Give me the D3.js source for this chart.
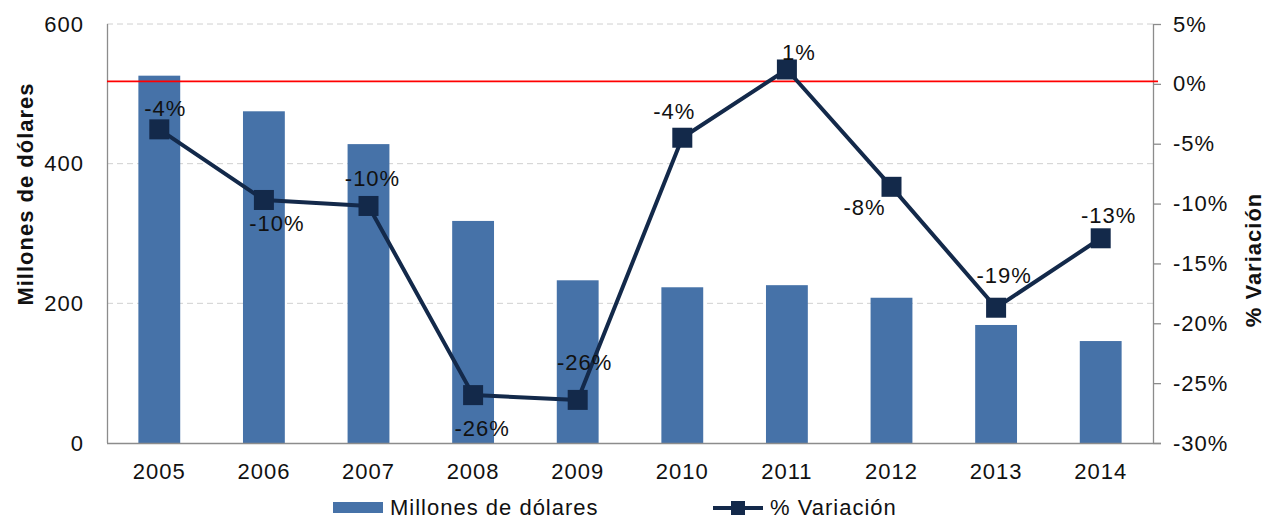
<!DOCTYPE html>
<html>
<head>
<meta charset="utf-8">
<script src="https://cdn.jsdelivr.net/npm/d3@7"></script>
<style>
  body { margin: 0; background: #fff; }
  text { font-family: "Liberation Sans", Arial, sans-serif; }
</style>
</head>
<body>
<svg id="chart" width="1267" height="521"></svg>
<script>
// data
var years = ['2005', '2006', '2007', '2008', '2009', '2010', '2011', '2012', '2013', '2014']
var millones = [526, 475, 428, 318, 233, 223, 226, 208, 169, 146]
var variacion = [-3.8, -9.7, -10.2, -26.0, -26.4, -4.5, 1.2, -8.6, -18.7, -12.9]
var varLabels = ['-4%', '-10%', '-10%', '-26%', '-26%', '-4%', '1%', '-8%', '-19%', '-13%']
var leftTicks = [0, 200, 400, 600]
var rightTicks = [5, 0, -5, -10, -15, -20, -25, -30]

var svg = d3.select('#chart')
var m = {top: 24, left: 107, right: 1153, bottom: 443}
var FS = 22, LS = 1   // Excel-ish text: a little wider than Liberation Sans

var x = d3.scaleBand().domain(years).range([m.left, m.right]).paddingInner(0.6).paddingOuter(0.3)
var xc = function(d){ return x(d) + x.bandwidth() / 2 }
var yL = d3.scaleLinear().domain([0, 600]).range([m.bottom, m.top])
var yR = d3.scaleLinear().domain([-30, 5]).range([m.bottom, m.top])

var barColor = '#4672a8', lineColor = '#13294a', axisColor = '#8c8c8c'

// dashed gridlines (left axis)
svg.selectAll('line.grid').data(leftTicks.slice(1)).join('line')
  .attr('x1', m.left).attr('x2', m.right)
  .attr('y1', yL).attr('y2', yL)
  .attr('stroke', '#d0d0d0').attr('stroke-width', 1).attr('stroke-dasharray', '6,4')

// bars
svg.selectAll('rect.bar').data(years).join('rect')
  .attr('x', function(d){ return x(d) }).attr('width', x.bandwidth())
  .attr('y', function(d, i){ return yL(millones[i]) })
  .attr('height', function(d, i){ return m.bottom - yL(millones[i]) })
  .attr('fill', barColor)

// axes
var leftAxis = svg.append('g').attr('transform', 'translate(' + m.left + ',0)')
  .call(d3.axisLeft(yL).tickValues(leftTicks).tickSize(0).tickPadding(23))
var rightAxis = svg.append('g').attr('transform', 'translate(' + m.right + ',0)')
  .call(d3.axisRight(yR).tickValues(rightTicks).tickSize(8).tickPadding(12).tickFormat(function(d){ return d + '%' }))
var bottomAxis = svg.append('g').attr('transform', 'translate(0,' + m.bottom + ')')
  .call(d3.axisBottom(x).tickSize(0).tickPadding(20))
bottomAxis.select('.domain').attr('d', 'M' + m.left + ',0.5H' + (m.right + 8))
;[leftAxis, rightAxis, bottomAxis].forEach(function(a){
  a.select('.domain').attr('stroke', axisColor).attr('stroke-width', 1.3)
  a.selectAll('.tick line').attr('stroke', axisColor).attr('stroke-width', 1.3)
  a.selectAll('.tick text').attr('font-size', FS).attr('letter-spacing', LS).attr('fill', '#111')
    .attr('font-family', '"Liberation Sans", Arial, sans-serif')
})
leftAxis.select('.domain').attr('d', 'M0.5,' + m.top + 'V' + m.bottom)
rightAxis.select('.domain').attr('d', 'M0.5,' + m.top + 'V' + m.bottom)

// red reference line at ~0%
svg.append('line')
  .attr('x1', m.left).attr('x2', m.right + 5)
  .attr('y1', yR(0.2)).attr('y2', yR(0.2))
  .attr('stroke', '#ff0000').attr('stroke-width', 1.8)

// variation line + square markers
var line = d3.line().x(function(d, i){ return xc(years[i]) }).y(function(d){ return yR(d) })
svg.append('path').datum(variacion).attr('d', line)
  .attr('fill', 'none').attr('stroke', lineColor).attr('stroke-width', 4).attr('stroke-linejoin', 'round')
svg.selectAll('rect.mk').data(variacion).join('rect')
  .attr('x', function(d, i){ return xc(years[i]) - 10 }).attr('y', function(d){ return yR(d) - 10 })
  .attr('width', 20).attr('height', 20).attr('fill', lineColor)

// data labels: offset (dx, baseline dy) from each marker, as placed in the original
var labelOffsets = [[6, -13], [13, 31], [4, -20], [9, 41], [7, -30],
                    [-8, -19], [12, -9], [-27, 28], [8, -25], [8, -15]]
svg.selectAll('text.lbl').data(variacion).join('text')
  .attr('x', function(d, i){ return xc(years[i]) + labelOffsets[i][0] })
  .attr('y', function(d, i){ return yR(d) + labelOffsets[i][1] })
  .attr('text-anchor', 'middle')
  .attr('font-size', FS).attr('letter-spacing', LS).attr('fill', '#111')
  .text(function(d, i){ return varLabels[i] })

// axis titles
svg.append('text').attr('transform', 'translate(33,194) rotate(-90)')
  .attr('text-anchor', 'middle').attr('font-size', FS).attr('letter-spacing', LS)
  .attr('font-weight', 'bold').attr('fill', '#111')
  .text('Millones de dólares')
svg.append('text').attr('transform', 'translate(1261,260) rotate(-90)')
  .attr('text-anchor', 'middle').attr('font-size', FS).attr('letter-spacing', LS)
  .attr('font-weight', 'bold').attr('fill', '#111')
  .text('% Variación')

// legend
var lg = svg.append('g')
lg.append('rect').attr('x', 333).attr('y', 502).attr('width', 50).attr('height', 11).attr('fill', barColor)
lg.append('text').attr('x', 390).attr('y', 515).attr('font-size', FS).attr('letter-spacing', LS)
  .attr('fill', '#111').text('Millones de dólares')
lg.append('line').attr('x1', 713).attr('x2', 763).attr('y1', 508).attr('y2', 508)
  .attr('stroke', lineColor).attr('stroke-width', 4)
lg.append('rect').attr('x', 731).attr('y', 501).attr('width', 14).attr('height', 14).attr('fill', lineColor)
lg.append('text').attr('x', 770).attr('y', 515).attr('font-size', FS).attr('letter-spacing', LS)
  .attr('fill', '#111').text('% Variación')
</script>
</body>
</html>
